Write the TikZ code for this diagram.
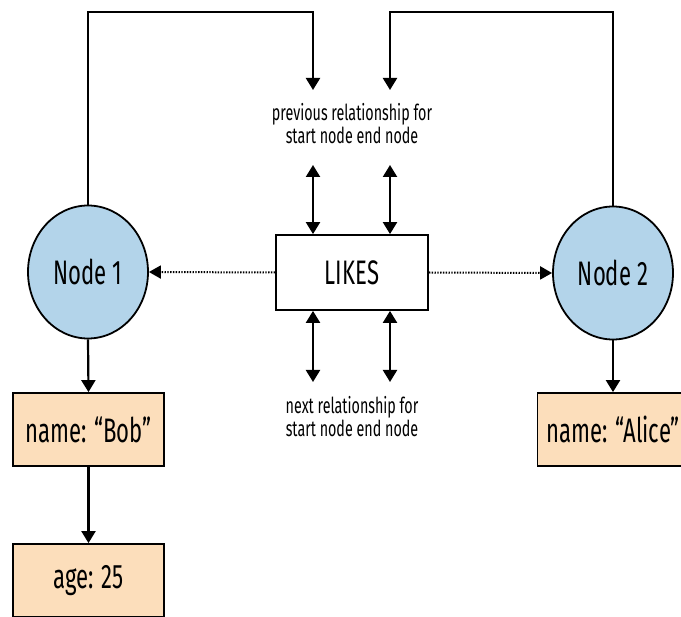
\documentclass[tikz,border=0pt]{standalone}
\usepackage{fontspec}
\setmainfont{Fira Sans}[FakeStretch=0.65]
\usetikzlibrary{arrows.meta,shapes.geometric}
\definecolor{NodeBlue}{HTML}{B3D4EA}
\definecolor{PropPeach}{HTML}{FCDEBB}
\tikzset{
  flowarrow/.style={-{Triangle[length=12pt,width=14pt]},line width=2.2pt},
  bothways/.style={{Triangle[length=12pt,width=14pt]}-{Triangle[length=12pt,width=14pt]},line width=2.2pt},
  dotarrow/.style={-{Triangle[length=12pt,width=13pt]},line width=2pt,dash pattern=on 1.4pt off 1.4pt},
  graphnode/.style={ellipse,draw,line width=1.8pt,fill=NodeBlue,inner sep=0pt,minimum width=120pt,minimum height=133pt,font=\fontsize{34}{36}\selectfont},
  relbox/.style={draw,line width=1.8pt,fill=white,minimum width=152pt,minimum height=75pt,font=\fontsize{34}{36}\selectfont},
  propbox/.style={draw,line width=1.8pt,fill=PropPeach,minimum width=151pt,minimum height=73pt,font=\fontsize{34}{36}\selectfont},
  note/.style={align=center,font=\fontsize{22}{23}\selectfont}
}

\begin{document}
\begin{tikzpicture}[x=1pt,y=-1pt]
  \useasboundingbox (0,0) rectangle (681,617);
  \clip (0,0) rectangle (681,617);

  % graph nodes and the relationship
  \node[graphnode] (n1) at (88,272) {Node 1};
  \node[graphnode] (n2) at (613,273) {Node 2};
  \node[relbox] (likes) at (352,272.5) {LIKES};

  % properties
  \node[propbox] (bob) at (88.5,429.5) {name: “Bob”};
  \node[propbox] (age) at (88.5,580.5) {age: 25};
  \node[propbox] (alice) at (613,429.5) {name: “Alice”};

  % pointer notes
  \node[note] (prev) at (352,124) {previous relationship for\\start node end node};
  \node[note] (next) at (352,417) {next relationship for\\start node end node};

  \coordinate (top) at (0,12);
  \coordinate (prevL) at (313,90);
  \coordinate (prevR) at (390,90);
  \coordinate (prevLb) at (313,165);
  \coordinate (prevRb) at (390,165);
  \coordinate (nextLb) at (313,382);
  \coordinate (nextRb) at (390,382);

  \draw[flowarrow] (n1.north) -- (n1.north |- top) -| (prevL);
  \draw[flowarrow] (n2.north) -- (n2.north |- top) -| (prevR);

  \draw[bothways] (prevLb) -- (likes.north -| prevLb);
  \draw[bothways] (prevRb) -- (likes.north -| prevRb);
  \draw[bothways] (likes.south -| nextLb) -- (nextLb);
  \draw[bothways] (likes.south -| nextRb) -- (nextRb);

  \draw[dotarrow] (likes.west) -- (n1.east);
  \draw[dotarrow] (likes.east) -- (n2.west);

  \draw[flowarrow] (n1.south) -- (bob.north);
  \draw[flowarrow] (bob.south) -- (age.north);
  \draw[flowarrow] (n2.south) -- (alice.north);
\end{tikzpicture}
\end{document}
